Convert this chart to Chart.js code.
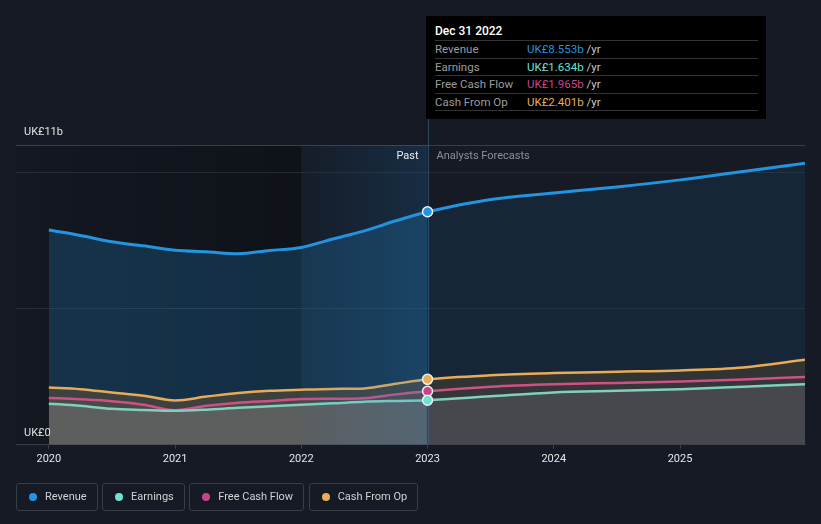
<!DOCTYPE html>
<html>
<head>
<meta charset="utf-8">
<script src="https://cdn.jsdelivr.net/npm/chart.js@4.4.0/dist/chart.umd.min.js"></script>
<style>
html,body{margin:0;padding:0;background:#151a24;width:821px;height:524px;overflow:hidden;font-family:Roboto,"Open Sans",sans-serif;}
#wrap{position:relative;width:821px;height:524px;}
#c{position:absolute;left:0;top:0;}
#tip{position:absolute;left:426px;top:16px;width:340px;height:103px;background:#000;box-sizing:border-box;padding:0 8px 0 9px;}
#tip .t{height:25px;padding-top:6px;box-sizing:border-box;line-height:18px;font-size:12px;font-weight:500;color:#fff;border-bottom:1px solid #333;}
#tip .r{height:16.5px;line-height:17.5px;font-size:11.5px;border-bottom:1px solid #333;white-space:nowrap;}
#tip .l{display:inline-block;width:92px;color:#9c9c9c;}
#tip .u{color:#c8c8c8;}
#legend{position:absolute;left:16px;top:483px;display:flex;gap:4.5px;}
#legend .i{height:26px;line-height:26px;border:1px solid #383d47;border-radius:3px;padding:0 10px 0 12px;font-size:11px;color:#d2d2d2;display:flex;align-items:center;}
#legend .d{width:8px;height:8px;border-radius:50%;margin-right:8px;}
</style>
</head>
<body>
<div id="wrap">
<canvas id="c" width="821" height="524"></canvas>
<div id="tip"></div>
<div id="legend"></div>
</div>
<script>
// ---- data ----
const years = [2020, 2020.25, 2020.5, 2020.75, 2021, 2021.25, 2021.5, 2021.75, 2022, 2022.25, 2022.5, 2022.75, 2023, 2023.5, 2024, 2024.5, 2025, 2025.5, 2025.99];
const revenue      = [7.88, 7.68, 7.45, 7.30, 7.14, 7.08, 7.01, 7.13, 7.24, 7.55, 7.85, 8.22, 8.553, 9.00, 9.24, 9.46, 9.72, 10.03, 10.33];
const earnings     = [1.51, 1.43, 1.32, 1.28, 1.25, 1.29, 1.36, 1.41, 1.47, 1.52, 1.58, 1.61, 1.634, 1.78, 1.92, 1.98, 2.04, 2.13, 2.22];
const freeCashFlow = [1.72, 1.67, 1.60, 1.47, 1.27, 1.43, 1.54, 1.61, 1.68, 1.69, 1.71, 1.85, 1.965, 2.13, 2.22, 2.27, 2.32, 2.40, 2.49];
const cashFromOp   = [2.10, 2.04, 1.92, 1.80, 1.63, 1.77, 1.90, 1.98, 2.02, 2.05, 2.07, 2.24, 2.401, 2.55, 2.63, 2.68, 2.73, 2.84, 3.12];
const seriesNames = ['Revenue', 'Earnings', 'Free Cash Flow', 'Cash From Op'];
const tooltipValues = ['UK£8.553b', 'UK£1.634b', 'UK£1.965b', 'UK£2.401b'];
const tooltipTitle = 'Dec 31 2022';
const xTickValues = [2020, 2021, 2022, 2023, 2024, 2025];
const yGridValues = [0, 5, 10, 11];
const yTopLabel = 'UK£11b';
const yBottomLabel = 'UK£0';
const xMin = 2019.74, xMax = 2025.99, yMin = 0, yMax = 11;
const pastStart = 2022, forecastStart = 2023;

// ---- styles ----
const lineColors = ['#2394df', '#80d0c0', '#cc5285', '#e8ab58'];
const dotColors  = ['#2394df', '#6de3d0', '#c8448a', '#e8ac5a'];
const fillPast = ['rgba(35,148,223,0.22)', 'rgba(130,128,132,0.38)', 'rgba(90,85,85,0.4)', 'rgba(68,68,62,0.85)'];
const fillFc   = ['rgba(35,148,223,0.10)', 'rgba(110,112,120,0.32)', 'rgba(60,58,65,0.4)', 'rgba(55,55,52,0.85)'];
const widths = [3, 2.5, 2.5, 2.5];
const orders = [4, 1, 2, 3];
const allSeries = [revenue, earnings, freeCashFlow, cashFromOp];
const markIdx = years.indexOf(forecastStart);

// tooltip + legend html
const tip = document.getElementById('tip');
let th = '<div class="t">' + tooltipTitle + '</div>';
seriesNames.forEach((n, i) => {
  th += '<div class="r"><span class="l">' + n + '</span><span style="color:' + dotColors[i] + '">' + tooltipValues[i] + '</span> <span class="u">/yr</span></div>';
});
tip.innerHTML = th;
const lg = document.getElementById('legend');
lg.innerHTML = seriesNames.map((n, i) => '<div class="i"><span class="d" style="background:' + dotColors[i] + '"></span>' + n + '</div>').join('');

const datasets = [];
allSeries.forEach((s, i) => {
  datasets.push({
    label: seriesNames[i],
    data: years.map((x, k) => ({x, y: s[k]})),
    borderColor: lineColors[i],
    borderWidth: widths[i],
    pointRadius: 0,
    fill: 'origin',
    backgroundColor: fillPast[i],
    segment: { backgroundColor: c => (c.p0.parsed.x >= forecastStart ? fillFc[i] : fillPast[i]) },
    cubicInterpolationMode: 'monotone',
    order: orders[i]
  });
});
allSeries.forEach((s, i) => {
  datasets.push({
    label: seriesNames[i] + ' marker',
    data: [{x: years[markIdx], y: s[markIdx]}],
    showLine: false,
    fill: false,
    pointRadius: 5,
    pointBackgroundColor: dotColors[i],
    pointBorderColor: '#f0f0f0',
    pointBorderWidth: 1.5,
    order: 0
  });
});
const earningsIndex = 1;

const deco = {
  id: 'deco',
  beforeDraw(chart) {
    const {ctx, chartArea: a, scales: {x}} = chart;
    ctx.save();
    ctx.fillStyle = '#151a24';
    ctx.fillRect(0, 0, chart.width, chart.height);
    const x2 = x.getPixelForValue(pastStart);
    const g = ctx.createLinearGradient(a.left, 0, x2, 0);
    g.addColorStop(0, 'rgba(0,0,0,0.08)');
    g.addColorStop(1, 'rgba(0,0,0,0.32)');
    ctx.fillStyle = g;
    ctx.fillRect(a.left, a.top, x2 - a.left, a.bottom - a.top);
    ctx.restore();
  },
  afterDatasetDraw(chart, args) {
    if (args.index !== earningsIndex) return;
    const {ctx, chartArea: a, scales: {x}} = chart;
    const x1 = x.getPixelForValue(pastStart), x2 = x.getPixelForValue(forecastStart);
    ctx.save();
    const g = ctx.createLinearGradient(x1, 0, x2, 0);
    g.addColorStop(0, 'rgba(35,130,210,0.03)');
    g.addColorStop(1, 'rgba(35,140,220,0.17)');
    ctx.fillStyle = g;
    ctx.fillRect(x1, a.top, x2 - x1, a.bottom - a.top);
    ctx.strokeStyle = 'rgba(60,110,150,0.55)';
    ctx.lineWidth = 1;
    ctx.beginPath();
    ctx.moveTo(Math.round(x2) + 0.5, a.top - 26);
    ctx.lineTo(Math.round(x2) + 0.5, a.bottom);
    ctx.stroke();
    ctx.restore();
  },
  afterDraw(chart) {
    const {ctx, chartArea: a, scales: {x, y}} = chart;
    ctx.save();
    ctx.font = '11px Roboto, sans-serif';
    ctx.textBaseline = 'middle';
    ctx.fillStyle = '#e2e2e2';
    ctx.textAlign = 'left';
    ctx.fillText(yTopLabel, a.left + 8, y.getPixelForValue(yMax) - 13);
    ctx.fillText(yBottomLabel, a.left + 8, y.getPixelForValue(yMin) - 12);
    const xf = x.getPixelForValue(forecastStart);
    const yl = y.getPixelForValue(yMax) + 11;
    ctx.textAlign = 'right';
    ctx.fillStyle = '#ececec';
    ctx.fillText('Past', xf - 9, yl);
    ctx.textAlign = 'left';
    ctx.fillStyle = '#8c9098';
    ctx.fillText('Analysts Forecasts', xf + 9, yl);
    ctx.restore();
  }
};

new Chart(document.getElementById('c'), {
  type: 'line',
  data: { datasets },
  options: {
    responsive: false,
    animation: false,
    devicePixelRatio: 1,
    layout: { padding: { left: 16, right: 16, top: 145, bottom: 54 } },
    plugins: { legend: { display: false }, tooltip: { enabled: false } },
    scales: {
      x: {
        type: 'linear', min: xMin, max: xMax,
        afterBuildTicks: s => { s.ticks = xTickValues.map(v => ({value: v})); },
        ticks: { color: '#e6e6e6', font: { size: 11, family: 'Roboto' }, padding: 4, maxRotation: 0, autoSkip: false, callback: v => String(v) },
        grid: { display: true, drawOnChartArea: false, drawTicks: true, tickLength: 4, color: '#3a3f48' },
        border: { display: true, color: '#3a3f48' }
      },
      y: {
        min: yMin, max: yMax,
        afterBuildTicks: s => { s.ticks = yGridValues.map(v => ({value: v})); },
        ticks: { display: false },
        grid: { drawTicks: false, color: c => (c.tick && c.tick.value === yMax ? '#393e46' : '#262b33') },
        border: { display: false }
      }
    }
  },
  plugins: [deco]
});
</script>
</body>
</html>
